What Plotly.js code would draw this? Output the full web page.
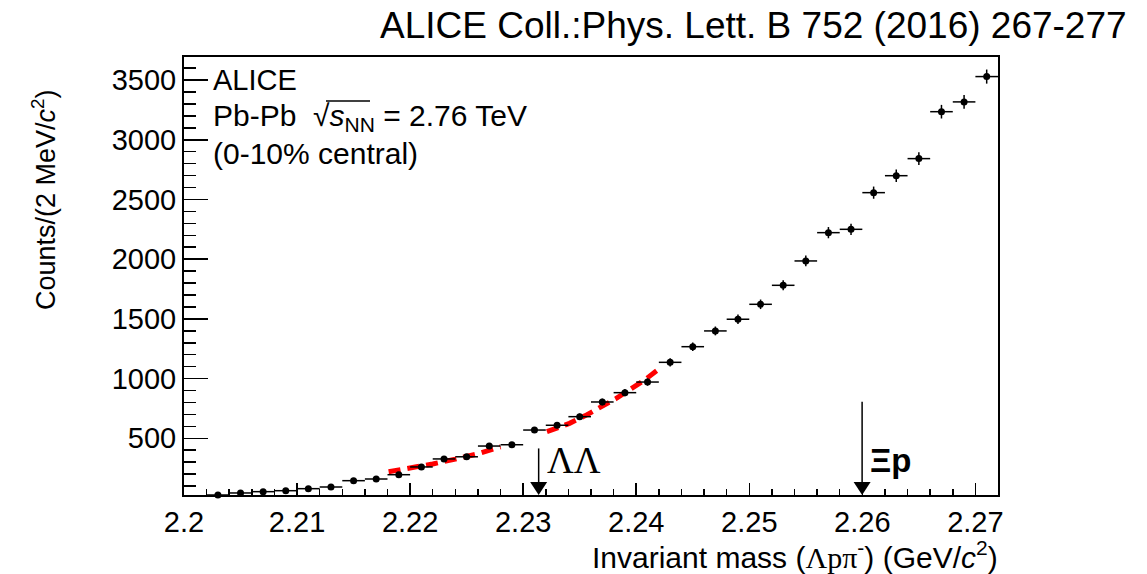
<!DOCTYPE html>
<html>
<head>
<meta charset="utf-8">
<script src="https://cdn.plot.ly/plotly-3.0.1.min.js"></script>
<style>html,body{margin:0;padding:0;background:#fff;}#chart{width:1147px;height:574px;}</style>
</head>
<body>
<div id="chart"></div>
<script>
// Bin centres (GeV/c^2), counts per 2 MeV/c^2, and statistical errors
const massBins = [2.203,2.205,2.207,2.209,2.211,2.213,2.215,2.217,2.219,2.221,2.223,2.225,2.227,2.229,2.231,2.233,2.235,2.237,2.239,2.241,2.243,2.245,2.247,2.249,2.251,2.253,2.255,2.257,2.259,2.261,2.263,2.265,2.267,2.269,2.271];
const counts   = [25,42,53,61,78,92,145,159,195,260,327,345,435,446,569,609,681,804,882,971,1136,1267,1399,1497,1622,1781,1985,2222,2250,2557,2699,2842,3235,3317,3529];
const countErr = [5,7,7,8,9,10,12,13,14,16,18,19,21,21,24,25,26,28,30,31,34,36,37,39,40,42,45,47,47,51,52,53,57,58,59];
const binHalfWidth = 0.001;

// Fit curve (red dashed), two drawn pieces
const fitX1 = [2.2181,2.2200,2.2220,2.2240,2.2260,2.2280];
const fitY1 = [220,250,285,325,370,428];
const fitX2 = [2.2321,2.2341,2.2355,2.2370,2.2382,2.2394,2.2407,2.2419];
const fitY2 = [555,625,690,765,832,905,985,1072];

// Thresholds marked with arrows
const arrowX = [2.23137, 2.25998];
const arrowTop = [415, 806];
const arrowLabels = ['ΛΛ', '<b>Ξp</b>'];
const arrowLabelY = [310, 310];

const xRange = [2.2, 2.272];
const yRange = [25, 3693];

const plotW = 1147-184-149, plotH = 574-57-79;
const pxPerX = plotW/(xRange[1]-xRange[0]);
const pxPerY = plotH/(yRange[1]-yRange[0]);

const FONT = 'Liberation Sans, Arial, Helvetica, sans-serif';

const traces = [
  {x: fitX1, y: fitY1, mode:'lines', line:{color:'#ff0000', width:5, dash:'12px,7px'}, hoverinfo:'skip'},
  {x: fitX2, y: fitY2, mode:'lines', line:{color:'#ff0000', width:5, dash:'12px,7px'}, hoverinfo:'skip'},
  {x: massBins, y: counts, mode:'markers', type:'scatter', cliponaxis:false,
   marker:{color:'black', size:7},
   error_y:{type:'data', array:countErr, thickness:1.5, width:0, color:'black'},
   error_x:{type:'constant', value:binHalfWidth, thickness:1.5, width:0, color:'black'}}
];

const shapes = [];
const annotations = [];
arrowX.forEach((ax,i)=>{
  shapes.push({type:'line', xref:'x', yref:'y', x0:ax, x1:ax, y0:arrowTop[i], y1:yRange[0]+13/pxPerY, line:{color:'black', width:1.5}, layer:'above'});
  const dx = 8.5/pxPerX, dy = 13/pxPerY, y0 = yRange[0];
  shapes.push({type:'path', xref:'x', yref:'y', layer:'above',
    path:`M ${ax-dx},${y0+dy} L ${ax+dx},${y0+dy} L ${ax},${y0} Z`,
    fillcolor:'black', line:{color:'black', width:0}});
  annotations.push({xref:'x', yref:'y', x: ax + 6/pxPerX, y: arrowLabelY[i], xanchor:'left', yanchor:'middle',
    text: arrowLabels[i], showarrow:false,
    font:{family: i===0 ? 'Liberation Serif, Times New Roman, serif' : FONT, size: i===0 ? 37 : 33, color:'black'}});
});

// sqrt overline
shapes.push({type:'line', xref:'paper', yref:'paper', x0:(326-184)/plotW, x1:(370-184)/plotW, y0:1-(101-57)/plotH, y1:1-(101-57)/plotH, line:{color:'black', width:1.5}});

annotations.push(
  {xref:'paper', yref:'paper', x:(1129-184)/plotW, y:1+(57-25)/plotH, xanchor:'right', yanchor:'middle', showarrow:false,
   text:'ALICE Coll.:Phys. Lett. B 752 (2016) 267-277', font:{family:FONT, size:37, color:'black'}},
  {xref:'paper', yref:'paper', x:(211-184)/plotW, y:1-(80-57)/plotH, xanchor:'left', yanchor:'middle', showarrow:false,
   text:'ALICE', font:{family:FONT, size:29, color:'black'}},
  {xref:'paper', yref:'paper', x:(211-184)/plotW, y:1-(117-57)/plotH, xanchor:'left', yanchor:'middle', showarrow:false,
   text:'Pb-Pb  √<i>s</i><sub>NN</sub> = 2.76 TeV', font:{family:FONT, size:30, color:'black'}},
  {xref:'paper', yref:'paper', x:(211-184)/plotW, y:1-(153-57)/plotH, xanchor:'left', yanchor:'middle', showarrow:false,
   text:'(0-10% central)', font:{family:FONT, size:30, color:'black'}},
  {xref:'paper', yref:'paper', x:(44-184)/plotW, y:1-(200-57)/plotH, xanchor:'center', yanchor:'middle', textangle:-90, showarrow:false,
   text:'Counts/(2 MeV/<i>c</i><sup>2</sup>)', font:{family:FONT, size:27, color:'black'}},
  {xref:'paper', yref:'paper', x:(1000-184)/plotW, y:-(555-495)/plotH, xanchor:'right', yanchor:'middle', showarrow:false,
   text:'Invariant mass (<span style="font-family:Liberation Serif, serif">Λpπ</span><sup>-</sup>) (GeV/<i>c</i><sup>2</sup>)', font:{family:FONT, size:30, color:'black'}}
);

const layout = {
  width:1147, height:574,
  margin:{l:184, r:149, t:57, b:79, pad:0},
  paper_bgcolor:'white', plot_bgcolor:'white',
  showlegend:false,
  font:{family:FONT, color:'black'},
  xaxis:{range:xRange, tick0:2.2, dtick:0.01, ticks:'inside', ticklen:12, tickwidth:1.5, tickcolor:'black',
    minor:{dtick:0.002, ticks:'inside', ticklen:6, tickwidth:1.5, tickcolor:'black'},
    showgrid:false, zeroline:false, showline:true, mirror:true, linecolor:'black', linewidth:2,
    tickfont:{family:FONT, size:29, color:'black'}},
  yaxis:{range:yRange, tick0:0, dtick:500, ticks:'inside', ticklen:24, tickwidth:1.5, tickcolor:'black',
    minor:{dtick:100, ticks:'inside', ticklen:12, tickwidth:1.5, tickcolor:'black'},
    showgrid:false, zeroline:false, showline:true, mirror:true, linecolor:'black', linewidth:2,
    tickfont:{family:FONT, size:29, color:'black'}},
  shapes: shapes,
  annotations: annotations
};

Plotly.newPlot('chart', traces, layout, {staticPlot:true, displayModeBar:false});
</script>
</body>
</html>
